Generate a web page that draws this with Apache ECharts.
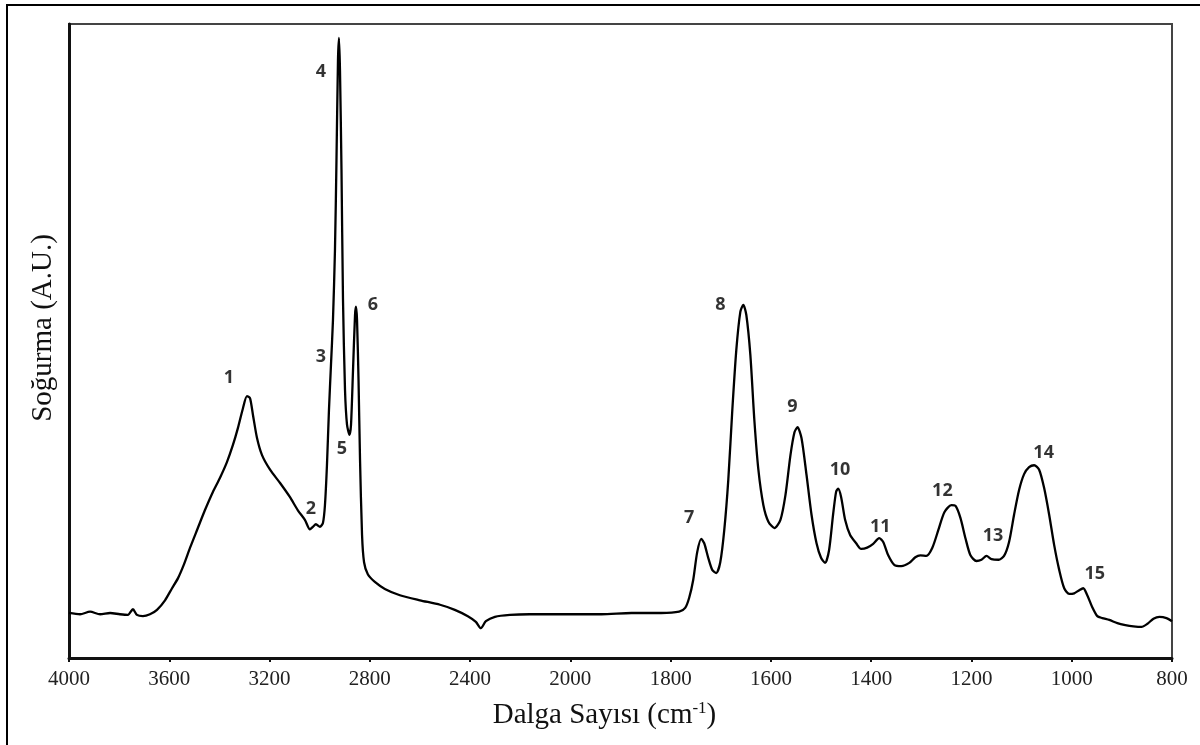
<!DOCTYPE html>
<html>
<head>
<meta charset="utf-8">
<script src="https://cdn.jsdelivr.net/npm/echarts@6/dist/echarts.min.js"></script>
<style>
  html, body { margin: 0; padding: 0; background: #fff; }
  #main { width: 1200px; height: 745px; }
</style>
</head>
<body>
<div id="main"></div>
<script>
// tick labels of the wavenumber axis (axis scale changes at 2000)
var tickValues = [4000, 3600, 3200, 2800, 2400, 2000, 1800, 1600, 1400, 1200, 1000, 800];

// spectrum: wavenumber (cm-1) and absorbance (A.U.)
var wavenumber = [
  4000, 3956, 3916, 3876, 3836, 3797, 3765, 3745, 3729, 3705, 3677, 3649, 3617, 3589, 3565, 3541,
  3517, 3486, 3458, 3426, 3398, 3370, 3346, 3326, 3306, 3290, 3278, 3266, 3250, 3230, 3198, 3158,
  3119, 3087, 3059, 3039, 3027, 3015, 2999, 2987, 2979, 2971, 2963, 2955, 2947, 2939, 2933, 2927,
  2923, 2919, 2913, 2907, 2899, 2891, 2881, 2875, 2867, 2859, 2855, 2851, 2845, 2839, 2831, 2823,
  2808, 2780, 2740, 2680, 2600, 2520, 2461, 2409, 2377, 2357, 2337, 2301, 2241, 2162, 2082, 2000,
  1938, 1878, 1819, 1783, 1771, 1763, 1755, 1747, 1739, 1733, 1725, 1717, 1709, 1701, 1693, 1685,
  1677, 1669, 1661, 1655, 1649, 1641, 1633, 1625, 1615, 1605, 1593, 1581, 1571, 1561, 1553, 1547,
  1539, 1529, 1519, 1509, 1500, 1492, 1484, 1476, 1470, 1466, 1460, 1452, 1442, 1430, 1420, 1408,
  1396, 1384, 1376, 1366, 1354, 1340, 1324, 1312, 1302, 1290, 1278, 1266, 1254, 1240, 1232, 1222,
  1212, 1202, 1190, 1180, 1170, 1160, 1146, 1135, 1125, 1115, 1105, 1095, 1085, 1075, 1065, 1055,
  1045, 1035, 1025, 1015, 1005, 995, 985, 977, 969, 959, 949, 939, 925, 909, 893, 877,
  861, 849, 837, 825, 811, 800
];
var absorbance = [
  0.071, 0.069, 0.073, 0.069, 0.071, 0.069, 0.068, 0.077, 0.068, 0.066, 0.069, 0.076, 0.091, 0.110, 0.126, 0.148,
  0.174, 0.205, 0.233, 0.262, 0.284, 0.309, 0.336, 0.363, 0.394, 0.413, 0.410, 0.383, 0.347, 0.320, 0.297, 0.276,
  0.254, 0.233, 0.218, 0.203, 0.207, 0.211, 0.207, 0.213, 0.241, 0.304, 0.391, 0.462, 0.533, 0.644, 0.785, 0.943,
  0.978, 0.927, 0.770, 0.565, 0.423, 0.368, 0.352, 0.368, 0.454, 0.541, 0.554, 0.533, 0.438, 0.312, 0.194, 0.151,
  0.132, 0.120, 0.109, 0.099, 0.091, 0.084, 0.076, 0.066, 0.057, 0.047, 0.058, 0.065, 0.068, 0.069, 0.069, 0.069,
  0.069, 0.071, 0.071, 0.073, 0.079, 0.095, 0.123, 0.167, 0.188, 0.181, 0.158, 0.139, 0.134, 0.151, 0.202, 0.281,
  0.391, 0.486, 0.546, 0.557, 0.541, 0.478, 0.375, 0.297, 0.241, 0.215, 0.205, 0.218, 0.257, 0.320, 0.356, 0.364,
  0.347, 0.289, 0.226, 0.181, 0.158, 0.150, 0.170, 0.226, 0.262, 0.267, 0.254, 0.218, 0.194, 0.181, 0.172, 0.174,
  0.180, 0.189, 0.183, 0.162, 0.147, 0.145, 0.150, 0.159, 0.162, 0.161, 0.174, 0.202, 0.230, 0.241, 0.240, 0.221,
  0.189, 0.162, 0.153, 0.155, 0.161, 0.156, 0.155, 0.161, 0.183, 0.226, 0.265, 0.290, 0.301, 0.304, 0.297, 0.268,
  0.226, 0.178, 0.139, 0.110, 0.101, 0.102, 0.107, 0.110, 0.099, 0.080, 0.066, 0.063, 0.060, 0.055, 0.052, 0.050,
  0.049, 0.054, 0.062, 0.065, 0.063, 0.058
];

// peak numbers and where their labels sit
var peakNames = ['1', '2', '3', '4', '5', '6', '7', '8', '9', '10', '11', '12', '13', '14', '15'];
var peakLabelX = [3362, 3035, 2995, 2995, 2911, 2788, 1763, 1701, 1557, 1462, 1382, 1258, 1157, 1056, 954];
var peakLabelY = [0.442, 0.235, 0.475, 0.924, 0.330, 0.557, 0.221, 0.557, 0.396, 0.297, 0.207, 0.263, 0.192, 0.323, 0.132];

// piecewise axis position from wavenumber (each tick step is one unit)
function toPos(w) {
  for (var i = 0; i < tickValues.length - 1; i++) {
    var a = tickValues[i], b = tickValues[i + 1];
    if (w <= a && w >= b) {
      return i + (a - w) / (a - b);
    }
  }
  return w > tickValues[0] ? 0 : tickValues.length - 1;
}

var lineData = wavenumber.map(function (w, i) {
  return [toPos(w), absorbance[i]];
});
var labelData = peakNames.map(function (n, i) {
  return { name: n, value: [toPos(peakLabelX[i]), peakLabelY[i]] };
});

var chart = echarts.init(document.getElementById('main'), null, { renderer: 'canvas' });

var serif = '"Liberation Serif", "Times New Roman", serif';

var option = {
  animation: false,
  backgroundColor: '#fff',
  graphic: [{
    type: 'rect',
    shape: { x: 7, y: 5, width: 1200, height: 800 },
    style: { fill: 'none', stroke: '#000', lineWidth: 2 },
    silent: true
  }],
  grid: {
    left: 69,
    right: 28,
    top: 24,
    bottom: 87,
    show: true,
    borderColor: '#444',
    borderWidth: 2
  },
  xAxis: {
    type: 'value',
    min: 0,
    max: tickValues.length - 1,
    interval: 1,
    name: '{a|Dalga Sayısı (cm}{s|-1}{a|)}',
    nameLocation: 'middle',
    nameGap: 40,
    nameTextStyle: {
      padding: [0, 32, 0, 0],
      rich: {
        a: { fontFamily: serif, fontSize: 29, color: '#111', lineHeight: 34 },
        s: { fontFamily: serif, fontSize: 17, color: '#111', lineHeight: 34, padding: [0, 0, 12, 0] }
      }
    },
    axisLine: { lineStyle: { color: '#111', width: 3 } },
    axisTick: { show: true, length: 4, lineStyle: { color: '#111', width: 2 } },
    splitLine: { show: false },
    axisLabel: {
      margin: 11,
      fontFamily: serif,
      fontSize: 21,
      color: '#222',
      formatter: function (v) {
        return String(tickValues[Math.round(v)]);
      }
    }
  },
  yAxis: {
    type: 'value',
    min: 0,
    max: 1,
    name: 'Soğurma (A.U.)',
    nameLocation: 'middle',
    nameGap: 11,
    nameTextStyle: { fontFamily: serif, fontSize: 29, color: '#111', padding: [0, 0, 0, 26] },
    axisLine: { show: true, lineStyle: { color: '#111', width: 3 } },
    axisTick: { show: false },
    axisLabel: { show: false },
    splitLine: { show: false }
  },
  series: [{
    type: 'line',
    data: lineData,
    symbol: 'none',
    smooth: 0.25,
    lineStyle: { color: '#000', width: 2.3 },
    silent: true
  }, {
    type: 'scatter',
    data: labelData,
    symbolSize: 0,
    silent: true,
    label: {
      show: true,
      position: 'inside',
      formatter: '{b}',
      fontFamily: '"Open Sans", "Liberation Sans", sans-serif',
      fontWeight: 'bold',
      fontSize: 18,
      color: '#000'
    }
  }]
};

chart.setOption(option);
</script>
</body>
</html>
